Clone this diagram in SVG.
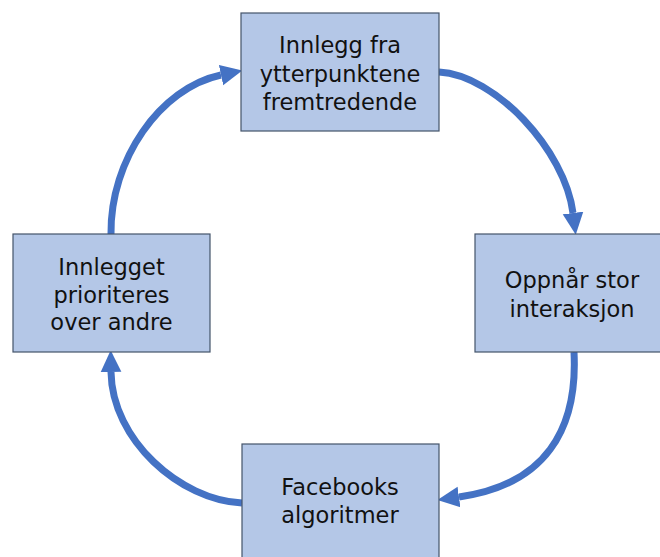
<svg xmlns="http://www.w3.org/2000/svg" width="660" height="557" viewBox="0 0 660 557">
<defs>
<style>
.box{fill:#B4C7E7;stroke:#44546A;stroke-width:1.2}
.lbl{font-family:"DejaVu Sans","Verdana",sans-serif;font-size:22.5px;fill:#111;text-anchor:middle}
.arc{fill:none;stroke:#4472C4;stroke-width:7}
</style>
<marker id="ah" markerUnits="userSpaceOnUse" markerWidth="24" markerHeight="24" refX="0" refY="10" orient="auto" viewBox="0 0 22 20">
<path d="M0,0.5 L20,10 L0,19.5 Z" fill="#4472C4"/>
</marker>
</defs>
<rect width="660" height="557" fill="#fff"/>
<g id="connectors">
<path class="arc" marker-end="url(#ah)" d="M439,72 C495,75 565,150 573,213"/>
<path class="arc" marker-end="url(#ah)" d="M574,352 C578,430 545,485 459,497"/>
<path class="arc" marker-end="url(#ah)" d="M242,503 C180,500 112,440 111,372"/>
<path class="arc" marker-end="url(#ah)" d="M111,234 C110,160 160,88 221,75"/>
</g>
<g id="node-top">
<rect class="box" x="241" y="13" width="198" height="118"/>
<text class="lbl" x="340" y="53">Innlegg fra</text>
<text class="lbl" x="340" y="82">ytterpunktene</text>
<text class="lbl" x="340" y="110">fremtredende</text>
</g>
<g id="node-right">
<rect class="box" x="475" y="234" width="198" height="118"/>
<text class="lbl" x="572" y="288">Oppnår stor</text>
<text class="lbl" x="572" y="317">interaksjon</text>
</g>
<g id="node-bottom">
<rect class="box" x="242" y="444" width="197" height="118"/>
<text class="lbl" x="340" y="495">Facebooks</text>
<text class="lbl" x="340" y="523">algoritmer</text>
</g>
<g id="node-left">
<rect class="box" x="13" y="234" width="197" height="118"/>
<text class="lbl" x="111.5" y="275">Innlegget</text>
<text class="lbl" x="111.5" y="303">prioriteres</text>
<text class="lbl" x="111.5" y="330">over andre</text>
</g>
</svg>
